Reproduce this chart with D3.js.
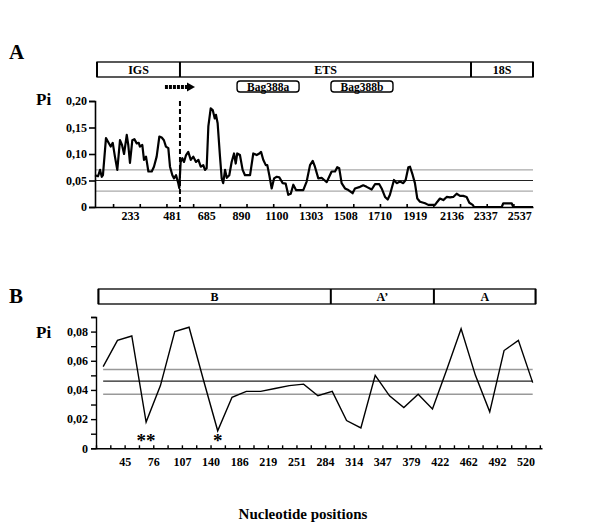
<!DOCTYPE html>
<html>
<head>
<meta charset="utf-8">
<script src="https://cdn.jsdelivr.net/npm/d3@7"></script>
<style>
body { margin: 0; background: #fff; }
text { font-family: "Liberation Serif", "Times New Roman", serif; font-weight: bold; fill: #000; }
</style>
</head>
<body>
<script>
// Panel A: sliding window Pi along the IGS-ETS-18S region
const aPos = [26,44,56,66,73,91,103,119,131,144,158,174,186,198,214,223,233,247,259,273,
  285,292,306,316,328,342,362,375,391,407,421,434,446,460,470,484,494,506,519,525,
  533,543,553,565,578,593,608,624,638,652,667,677,687,697,711,723,735,742,752,766,
  776,785,796,806,821,835,849,859,868,884,900,914,944,963,983,999,1009,1022,1037,1046,
  1058,1072,1086,1102,1117,1137,1155,1170,1185,1200,1216,1240,1259,1279,1299,1315,1328,1348,1368,1383,
  1398,1411,1427,1447,1460,1472,1486,1506,1526,1551,1565,1595,1614,1634,1664,1684,1709,1723,1743,1759,
  1772,1796,1812,1832,1851,1865,1881,1891,1907,1920,1934,1950,1980,1999,2019,2039,2053,2068,2088,2108,
  2128,2147,2167,2187,2206,2226,2242,2262,2270,2434,2443,2493,2502,2619];
const aPi = [0.060,0.058,0.070,0.057,0.060,0.130,0.123,0.114,0.121,0.095,
  0.070,0.126,0.117,0.100,0.136,0.117,0.083,0.126,0.128,0.120,
  0.121,0.114,0.117,0.089,0.095,0.067,0.067,0.076,0.095,0.133,
  0.131,0.126,0.114,0.111,0.076,0.060,0.054,0.060,0.045,0.036,
  0.085,0.092,0.085,0.098,0.104,0.089,0.095,0.085,0.089,0.076,
  0.079,0.070,0.073,0.152,0.186,0.183,0.167,0.174,0.158,0.095,
  0.054,0.045,0.070,0.055,0.060,0.085,0.101,0.082,0.101,0.098,
  0.070,0.060,0.060,0.101,0.098,0.101,0.104,0.089,0.079,0.079,
  0.060,0.035,0.054,0.057,0.056,0.045,0.044,0.023,0.025,0.042,
  0.032,0.032,0.032,0.048,0.079,0.087,0.076,0.054,0.055,0.051,
  0.047,0.056,0.067,0.067,0.075,0.073,0.045,0.035,0.032,0.026,
  0.035,0.038,0.041,0.038,0.033,0.043,0.043,0.035,0.019,0.014,
  0.023,0.051,0.045,0.048,0.045,0.051,0.075,0.076,0.060,0.045,
  0.016,0.010,0.007,0.004,0.004,0.004,0.010,0.016,0.013,0.019,
  0.018,0.019,0.025,0.021,0.021,0.019,0.008,0.004,0,0,
  0.007,0.007,0,0];
const aTickLabels = [233,481,685,890,1100,1303,1508,1710,1919,2136,2337,2537];
const aYTicks = [0, 0.05, 0.10, 0.15, 0.20];
const aRefLines = [0.07, 0.05, 0.03];
const aRegionNames = ["IGS", "ETS", "18S"];
const aRegionBounds = [38, 529, 2252, 2619];
const aBoundary = 529;
const aPrimerNames = ["Bag388a", "Bag388b"];
const aPrimerStarts = [867, 1423];
const aPrimerEnds = [1234, 1790];
const aArrow = [440, 618];

// Panel B: Pi per window across the B / A' / A repeats
const bPi = [0.056,0.074,0.077,0.018,0.043,0.080,0.083,0.047,0.012,0.035,
  0.039,0.039,0.041,0.043,0.044,0.036,0.039,0.019,0.014,0.050,
  0.036,0.028,0.037,0.027,0.054,0.082,0.050,0.025,0.067,0.074,0.045];
const bTickLabels = ["45","76","107","140","186","219","251","284","314","347","379","422","462","492","520"];
const bRefLines = [0.054, 0.046, 0.037];
const bRegionNames = ["B", "A\u2019", "A"];
const bRegionBounds = [-0.33, 15.9, 23.1, 30.2];
const bStars = [{ i: 3, t: "**" }, { i: 8, t: "*" }];

const W = 604, H = 523;
const fmt = d => d === 0 ? "0" : d3.format(".2f")(d).replace(".", ",");
const tickFont = 12;

const svg = d3.select("body").append("svg")
  .attr("width", W).attr("height", H);

function styleText(g) {
  g.selectAll("text").attr("font-size", tickFont)
    .style("font-family", "Liberation Serif").style("font-weight", "bold");
}

// ---------- Panel A ----------
const xA = d3.scaleLinear().domain([26, 2619]).range([95, 533]);
const yA = d3.scaleLinear().domain([0, 0.20]).range([207, 101]);

svg.append("text").attr("x", 9).attr("y", 59).attr("font-size", 21).text("A");
svg.append("text").attr("x", 36).attr("y", 105).attr("font-size", 17).text("Pi");

// region box
const boxA = svg.append("g");
boxA.append("rect")
  .attr("x", xA(aRegionBounds[0])).attr("y", 62)
  .attr("width", xA(aRegionBounds[3]) - xA(aRegionBounds[0])).attr("height", 15)
  .attr("fill", "none").attr("stroke", "#000").attr("stroke-width", 1.3);
aRegionBounds.forEach(b => {
  boxA.append("line").attr("x1", xA(b)).attr("x2", xA(b)).attr("y1", 62).attr("y2", 77)
    .attr("stroke", "#000").attr("stroke-width", 2);
});
aRegionNames.forEach((n, i) => {
  boxA.append("text")
    .attr("x", (xA(aRegionBounds[i]) + xA(aRegionBounds[i + 1])) / 2).attr("y", 74)
    .attr("text-anchor", "middle").attr("font-size", 12).text(n);
});

// primers
aPrimerNames.forEach((n, i) => {
  svg.append("rect")
    .attr("x", xA(aPrimerStarts[i])).attr("y", 81)
    .attr("width", xA(aPrimerEnds[i]) - xA(aPrimerStarts[i])).attr("height", 11)
    .attr("rx", 3).attr("fill", "none").attr("stroke", "#000").attr("stroke-width", 1.4);
  svg.append("text")
    .attr("x", (xA(aPrimerStarts[i]) + xA(aPrimerEnds[i])) / 2).attr("y", 90.5)
    .attr("text-anchor", "middle").attr("font-size", 11.5).text(n);
});

// arrow
svg.append("line")
  .attr("x1", xA(aArrow[0])).attr("x2", xA(aArrow[1]) - 7)
  .attr("y1", 87).attr("y2", 87)
  .attr("stroke", "#000").attr("stroke-width", 4).attr("stroke-dasharray", "3,1");
svg.append("path")
  .attr("d", `M${xA(aArrow[1]) - 8},82.5 L${xA(aArrow[1])},87 L${xA(aArrow[1]) - 8},91.5 Z`)
  .attr("fill", "#000");

// reference lines
svg.selectAll(".refA").data(aRefLines).enter().append("line")
  .attr("x1", xA.range()[0]).attr("x2", xA.range()[1])
  .attr("y1", d => yA(d)).attr("y2", d => yA(d))
  .attr("stroke", (d, i) => i === 1 ? "#222" : "#888")
  .attr("stroke-width", (d, i) => i === 1 ? 1.2 : 0.9);

// boundary
svg.append("line")
  .attr("x1", xA(aBoundary)).attr("x2", xA(aBoundary))
  .attr("y1", yA(0.2)).attr("y2", yA(0))
  .attr("stroke", "#000").attr("stroke-width", 2).attr("stroke-dasharray", "5,3");

// curve
svg.append("path")
  .datum(aPos.map((p, i) => [p, aPi[i]]))
  .attr("fill", "none").attr("stroke", "#000").attr("stroke-width", 2.2)
  .attr("stroke-linejoin", "round")
  .attr("d", d3.line().x(d => xA(d[0])).y(d => yA(d[1])));

// axes
const yAxisA = svg.append("g").attr("transform", "translate(95,0)")
  .call(d3.axisLeft(yA).tickValues(aYTicks).tickSize(6).tickPadding(2).tickFormat(fmt));
styleText(yAxisA);
yAxisA.selectAll("path,line").attr("stroke", "#000").attr("stroke-width", 1.6);

const xAxisA = svg.append("g").attr("transform", "translate(0,207)")
  .call(d3.axisBottom(xA).tickValues(d3.range(133, 2619, 158)).tickSizeInner(-3).tickSizeOuter(0).tickFormat(""));
xAxisA.selectAll("path,line").attr("stroke", "#000").attr("stroke-width", 1.6);
const xLabA = svg.append("g").attr("transform", "translate(0,207)")
  .call(d3.axisBottom(xA).tickValues(aTickLabels).tickSize(0).tickPadding(4).tickFormat(d3.format("d")));
xLabA.select(".domain").remove();
styleText(xLabA);

// ---------- Panel B ----------
const xB = d3.scaleLinear().domain([-0.5, 30.65]).range([96, 542]);
const yB = d3.scaleLinear().domain([0, 0.09]).range([448.3, 317]);

svg.append("text").attr("x", 9).attr("y", 303).attr("font-size", 21).text("B");
svg.append("text").attr("x", 36).attr("y", 338).attr("font-size", 17).text("Pi");

const boxB = svg.append("g");
boxB.append("rect")
  .attr("x", xB(bRegionBounds[0])).attr("y", 289)
  .attr("width", xB(bRegionBounds[3]) - xB(bRegionBounds[0])).attr("height", 15)
  .attr("fill", "none").attr("stroke", "#000").attr("stroke-width", 1.3);
bRegionBounds.forEach(b => {
  boxB.append("line").attr("x1", xB(b)).attr("x2", xB(b)).attr("y1", 289).attr("y2", 304)
    .attr("stroke", "#000").attr("stroke-width", 2);
});
bRegionNames.forEach((n, i) => {
  boxB.append("text")
    .attr("x", (xB(bRegionBounds[i]) + xB(bRegionBounds[i + 1])) / 2).attr("y", 301)
    .attr("text-anchor", "middle").attr("font-size", 12).text(n);
});

svg.selectAll(".refB").data(bRefLines).enter().append("line")
  .attr("x1", xB(0)).attr("x2", xB(bPi.length - 1))
  .attr("y1", d => yB(d)).attr("y2", d => yB(d))
  .attr("stroke", (d, i) => i === 1 ? "#222" : "#999")
  .attr("stroke-width", (d, i) => i === 1 ? 1.2 : 1.6);

svg.append("path")
  .datum(bPi)
  .attr("fill", "none").attr("stroke", "#000").attr("stroke-width", 1.4)
  .attr("d", d3.line().x((d, i) => xB(i)).y(d => yB(d)));

bStars.forEach(s => {
  svg.append("text").attr("x", xB(s.i)).attr("y", 447)
    .attr("text-anchor", "middle").attr("font-size", 19).text(s.t);
});

const yAxisB = svg.append("g").attr("transform", "translate(96,0)")
  .call(d3.axisLeft(yB).tickValues(d3.range(0, 0.0901, 0.01)).tickSize(5).tickPadding(3)
    .tickFormat(d => Math.round(d * 100) % 2 === 0 ? fmt(Math.round(d * 100) / 100) : ""));
styleText(yAxisB);
yAxisB.selectAll("path,line").attr("stroke", "#000").attr("stroke-width", 1.4);

const xAxisB = svg.append("g").attr("transform", "translate(0,448.3)")
  .call(d3.axisBottom(xB).tickValues(d3.range(-0.5, 30.6, 1)).tickSizeInner(-3).tickSizeOuter(0)
    .tickFormat(d => {
      const j = (d - 1.5) / 2;
      return Number.isInteger(j) && j >= 0 && j < bTickLabels.length ? bTickLabels[j] : "";
    }).tickPadding(9));
styleText(xAxisB);
xAxisB.selectAll("path,line").attr("stroke", "#000").attr("stroke-width", 1.4);

svg.append("text").attr("x", 303).attr("y", 519).attr("text-anchor", "middle")
  .attr("font-size", 15).text("Nucleotide positions");
</script>
</body>
</html>
